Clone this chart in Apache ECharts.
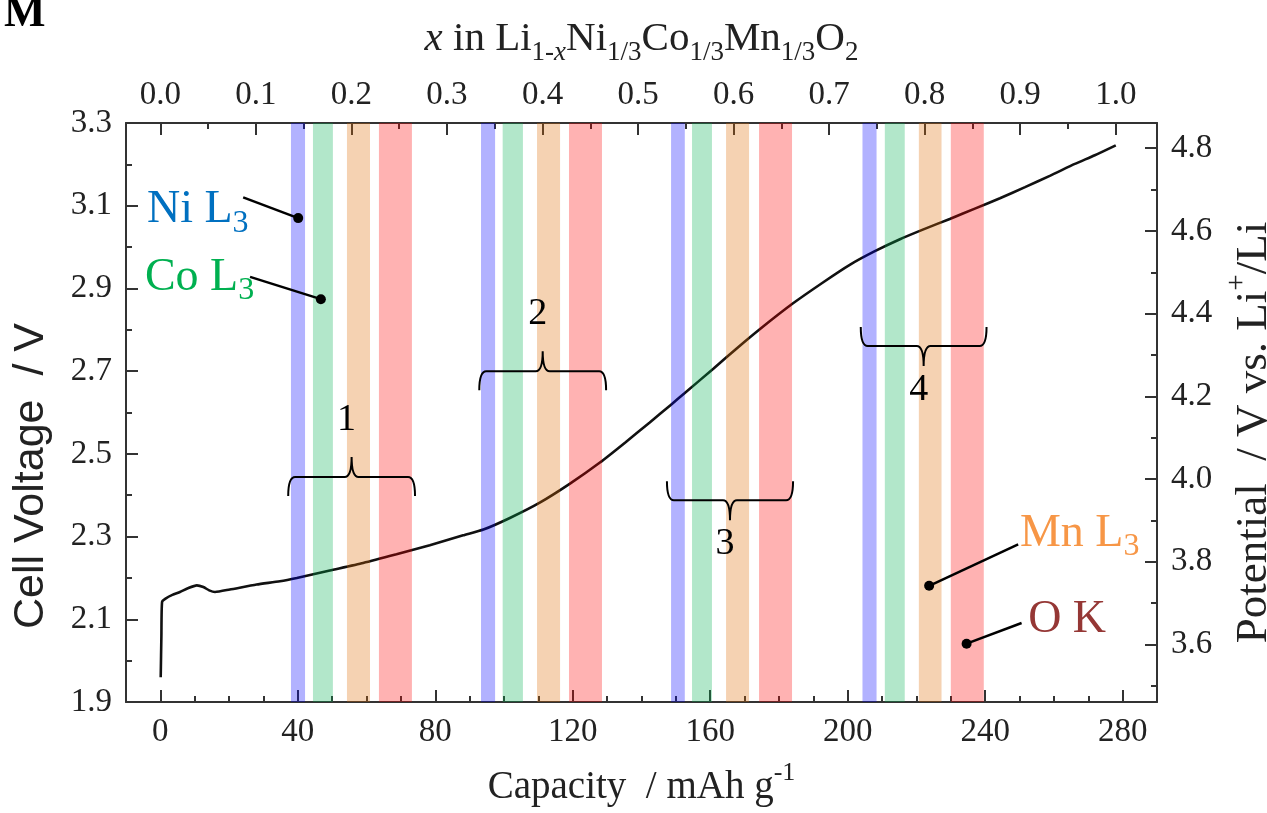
<!DOCTYPE html>
<html><head><meta charset="utf-8">
<script src="https://cdn.jsdelivr.net/npm/echarts@6/dist/echarts.min.js"></script>
<style>html,body{margin:0;padding:0;background:#fff}#c{width:1267px;height:813px}</style>
</head><body><div id="c"></div>
<script>
// ---- data ----
const capacity = [0.1,0.3,0.5,1.5,3.5,5.7,8.0,10.6,12.5,14.2,15.9,20.2,28.0,34.8,39.7,49.3,59.0,68.7,78.4,88.1,94.0,101.7,110.4,119.2,127.9,135.2,142.4,148.6,152.6,160.9,167.7,174.5,184.1,192.9,200.6,207.9,215.2,222.4,229.7,237.0,244.3,251.6,258.8,266.1,271.9,278.0];
const voltage  = [1.960,2.060,2.142,2.150,2.159,2.166,2.175,2.182,2.178,2.170,2.166,2.172,2.184,2.192,2.200,2.218,2.236,2.257,2.279,2.303,2.317,2.345,2.382,2.428,2.479,2.527,2.576,2.619,2.647,2.706,2.755,2.802,2.864,2.915,2.957,2.990,3.019,3.044,3.068,3.093,3.118,3.145,3.172,3.201,3.222,3.246];
const bottomTicks = [0,40,80,120,160,200,240,280];
const topTicks = [0.0,0.1,0.2,0.3,0.4,0.5,0.6,0.7,0.8,0.9,1.0];
const topMinorTicks = [0.05,0.15,0.25,0.35,0.45,0.55,0.65,0.75,0.85,0.95,1.05];
const rightTicks = [3.6,3.8,4.0,4.2,4.4,4.6,4.8];
const rightMinorTicks = [3.5,3.7,3.9,4.1,4.3,4.5,4.7];
const niBands = [[38.0,42.1],[93.3,97.4],[148.6,152.6],[204.3,208.4]];
const coBands = [[44.4,50.2],[99.6,105.5],[154.7,160.5],[210.8,216.6]];
const mnBands = [[54.3,61.0],[109.6,116.3],[164.6,171.3],[220.7,227.3]];
const oBands  = [[63.6,73.2],[118.9,128.5],[174.2,183.8],[230.0,239.6]];
const theoreticalCapacity = 278;   // x = capacity / 278
const potentialOffset = 1.561;     // potential vs Li = cell voltage + offset
const calloutNames = ['Ni L','Co L','Mn L','O K'];
const calloutSubs = ['3','3','3',''];
const calloutDots = [[40.1,3.070],[46.7,2.874],[223.7,2.181],[234.6,2.041]];
const calloutLineStarts = [[24.1,3.120],[26.1,2.928],[249.6,2.281],[250.6,2.091]];
const calloutTextAnchors = [[-3.9,3.089],[-4.5,2.926],[250.1,2.307],[252.5,2.098]];
const braceLabels = ['1','2','3','4'];
const braceSpans = [[37.2,74.1],[92.8,129.7],[147.4,184.1],[203.8,240.4]];
const braceLevels = [2.444,2.700,2.388,2.761];
const braceUp = [1,1,0,0];

// ---- styles ----
const SERIF = 'Liberation Serif';
const SANS = 'Liberation Sans';
const AX = '#333';
const TXT = '#222';
const bandColors = ['rgba(0,0,255,0.30)','rgba(0,176,80,0.30)','rgba(222,105,0,0.30)','rgba(255,0,0,0.30)'];
const calloutColors = ['#0070c0','#00b050','#f79646','#953735'];
const xMin = -10, xMax = 290, yMin = 1.9, yMax = 3.3;

const bandData = [];
[niBands, coBands, mnBands, oBands].forEach((arr, k) => arr.forEach(b => bandData.push([b[0], b[1], k])));
const braceData = braceSpans.map((s, k) => [s[0], s[1], braceLevels[k], braceUp[k], k]);
const calloutData = calloutNames.map((n, k) => [calloutDots[k][0], calloutDots[k][1], calloutLineStarts[k][0], calloutLineStarts[k][1], calloutTextAnchors[k][0], calloutTextAnchors[k][1], k]);

const tickLabel = {fontFamily: SERIF, fontSize: 33, color: TXT};
const nameStyle = {fontFamily: SERIF, fontSize: 39, color: TXT};

const option = {
  animation: false,
  backgroundColor: '#fff',
  grid: {left: 126, right: 110, top: 123, bottom: 111, containLabel: false, outerBoundsMode: 'none'},
  graphic: [
    {type: 'text', x: 4, y: -7, z: 100, style: {text: 'M', font: 'bold 44px ' + SERIF, fill: '#000',
      shadowColor: 'rgba(110,110,0,0.85)', shadowBlur: 3, shadowOffsetX: 2, shadowOffsetY: 2}},
    {type: 'text', x: 31, y: 476, rotation: Math.PI / 2, z: 100,
      style: {text: 'Cell Voltage  / V', font: '43px ' + SANS, fill: TXT, align: 'center', verticalAlign: 'middle'}}
  ],
  xAxis: [
    { type: 'value', position: 'bottom', min: xMin, max: xMax,
      axisLine: {show: true, onZero: false, lineStyle: {color: AX, width: 2}},
      axisTick: {show: true, inside: true, length: 12, customValues: bottomTicks, lineStyle: {color: AX, width: 2}},
      axisLabel: {show: true, customValues: bottomTicks, margin: 14, ...tickLabel},
      splitLine: {show: false},
      name: 'Capacity  / mAh g{sup|-1}', nameLocation: 'middle', nameGap: 58,
      nameTextStyle: {...nameStyle, rich: {sup: {fontFamily: SERIF, fontSize: 26, color: TXT, padding: [0,0,30,0]}}}
    },
    { type: 'value', position: 'bottom', min: xMin, max: xMax, interval: 10,
      axisLine: {show: false, onZero: false},
      axisTick: {show: true, inside: true, length: 6, lineStyle: {color: AX, width: 2}},
      axisLabel: {show: false}, splitLine: {show: false}
    },
    { type: 'value', position: 'top', min: xMin / theoreticalCapacity, max: xMax / theoreticalCapacity,
      axisLine: {show: true, onZero: false, lineStyle: {color: AX, width: 2}},
      axisTick: {show: true, inside: true, length: 12, customValues: topTicks, lineStyle: {color: AX, width: 2}},
      axisLabel: {show: true, customValues: topTicks, margin: 11, formatter: v => v.toFixed(1), ...tickLabel},
      splitLine: {show: false},
      name: '{i|x}{r| in Li}{s|1-}{si|x}{r|Ni}{s|1/3}{r|Co}{s|1/3}{r|Mn}{s|1/3}{r|O}{s|2}',
      nameLocation: 'middle', nameGap: 57,
      nameTextStyle: {...nameStyle, rich: {
        i: {fontFamily: SERIF, fontSize: 41, fontStyle: 'italic', color: TXT},
        r: {fontFamily: SERIF, fontSize: 41, color: TXT},
        s: {fontFamily: SERIF, fontSize: 27, color: TXT, padding: [27,0,0,0]},
        si: {fontFamily: SERIF, fontSize: 27, fontStyle: 'italic', color: TXT, padding: [27,0,0,0]}
      }}
    },
    { type: 'value', position: 'top', min: xMin / theoreticalCapacity, max: xMax / theoreticalCapacity,
      axisLine: {show: false, onZero: false},
      axisTick: {show: true, inside: true, length: 6, customValues: topMinorTicks, lineStyle: {color: AX, width: 2}},
      axisLabel: {show: false}, splitLine: {show: false}
    }
  ],
  yAxis: [
    { type: 'value', position: 'left', min: yMin, max: yMax, interval: 0.2,
      axisLine: {show: true, onZero: false, lineStyle: {color: AX, width: 2}},
      axisTick: {show: true, inside: true, length: 12, lineStyle: {color: AX, width: 2}},
      minorTick: {show: true, splitNumber: 2, length: 6, lineStyle: {color: AX, width: 2}},
      axisLabel: {show: true, margin: 14, formatter: v => v.toFixed(1), ...tickLabel},
      splitLine: {show: false}
    },
    { type: 'value', position: 'right', min: yMin + potentialOffset, max: yMax + potentialOffset,
      axisLine: {show: true, onZero: false, lineStyle: {color: AX, width: 2}},
      axisTick: {show: true, inside: true, length: 12, customValues: rightTicks, lineStyle: {color: AX, width: 2}},
      axisLabel: {show: true, customValues: rightTicks, margin: 14, formatter: v => v.toFixed(1), ...tickLabel},
      splitLine: {show: false},
      name: 'Potential  / V vs. Li{sup|+}/Li', nameLocation: 'middle', nameGap: 61, nameRotate: 90,
      nameTextStyle: {fontFamily: SERIF, fontSize: 45, color: TXT, padding: [0, 40, 0, 0], rich: {sup: {fontFamily: SERIF, fontSize: 29, color: TXT, padding: [0,0,33,0]}}}
    },
    { type: 'value', position: 'right', min: yMin + potentialOffset, max: yMax + potentialOffset,
      axisLine: {show: false, onZero: false},
      axisTick: {show: true, inside: true, length: 6, customValues: rightMinorTicks, lineStyle: {color: AX, width: 2}},
      axisLabel: {show: false}, splitLine: {show: false}
    }
  ],
  series: [
    { type: 'line', xAxisIndex: 0, yAxisIndex: 0, z: 2,
      data: capacity.map((c, i) => [c, voltage[i]]),
      showSymbol: false, symbol: 'none', smooth: 0.2,
      lineStyle: {color: '#111', width: 2.6}
    },
    { type: 'custom', xAxisIndex: 0, yAxisIndex: 0, z: 5, silent: true,
      encode: {x: [0, 1]},
      data: bandData,
      renderItem: (params, api) => {
        const p0 = api.coord([api.value(0), yMax]);
        const p1 = api.coord([api.value(1), yMin]);
        return {type: 'rect', shape: {x: p0[0], y: p0[1], width: p1[0] - p0[0], height: p1[1] - p0[1]},
                style: {fill: bandColors[api.value(2)]}};
      }
    },
    { type: 'custom', xAxisIndex: 0, yAxisIndex: 0, z: 10, silent: true, clip: false,
      encode: {x: [0, 1], y: 2},
      data: braceData,
      renderItem: (params, api) => {
        const a = api.coord([api.value(0), api.value(2)]), b = api.coord([api.value(1), api.value(2)]);
        const up = api.value(3) === 1, k = api.value(4);
        const L = a[1], x0 = a[0], x1 = b[0], xc = (x0 + x1) / 2;
        const d = up ? -1 : 1;
        const tip = L - d * 19, peak = L + d * 20, r = 7;
        const path = `M${x0} ${tip} Q${x0} ${L} ${x0 + r} ${L} L${xc - r} ${L} Q${xc} ${L} ${xc} ${peak} Q${xc} ${L} ${xc + r} ${L} L${x1 - r} ${L} Q${x1} ${L} ${x1} ${tip}`;
        const ly = up ? L - 57 : L + 44;
        return {type: 'group', children: [
          {type: 'path', shape: {pathData: path}, style: {stroke: '#000', lineWidth: 2, fill: null}},
          {type: 'text', x: xc - 5, y: ly, style: {text: braceLabels[k], font: '38px ' + SERIF, fill: '#000', align: 'center', verticalAlign: 'middle'}}
        ]};
      }
    },
    { type: 'custom', xAxisIndex: 0, yAxisIndex: 0, z: 10, silent: true, clip: false,
      encode: {x: [0, 2, 4], y: [1, 3, 5]},
      data: calloutData,
      renderItem: (params, api) => {
        const d = api.coord([api.value(0), api.value(1)]);
        const s = api.coord([api.value(2), api.value(3)]);
        const t = api.coord([api.value(4), api.value(5)]);
        const k = api.value(6);
        const txt = calloutSubs[k] ? `{m|${calloutNames[k]}}{s|${calloutSubs[k]}}` : `{m|${calloutNames[k]}}`;
        return {type: 'group', children: [
          {type: 'line', shape: {x1: s[0], y1: s[1], x2: d[0], y2: d[1]}, style: {stroke: '#000', lineWidth: 2.5}},
          {type: 'circle', shape: {cx: d[0], cy: d[1], r: 5}, style: {fill: '#000'}},
          {type: 'text', x: t[0], y: t[1], style: {text: txt, align: 'left', verticalAlign: 'middle',
            rich: {m: {fontFamily: SERIF, fontSize: 46, fill: calloutColors[k], color: calloutColors[k]},
                   s: {fontFamily: SERIF, fontSize: 32, fill: calloutColors[k], color: calloutColors[k], padding: [26,0,0,0]}}}}
        ]};
      }
    }
  ]
};

const chart = echarts.init(document.getElementById('c'));
chart.setOption(option);
</script>
</body></html>
